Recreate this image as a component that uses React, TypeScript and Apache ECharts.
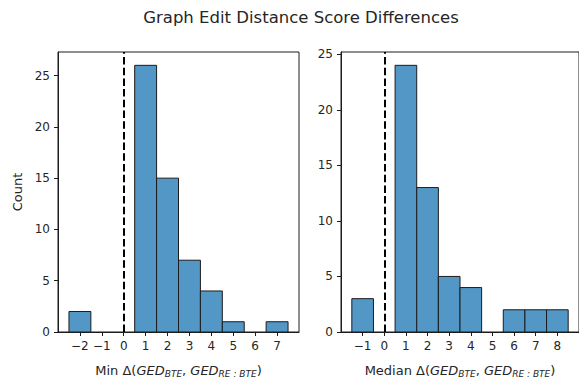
import React, { useEffect, useRef } from "react";
import * as echarts from "echarts";

const titleText = "Graph Edit Distance Score Differences";
const leftBins = [-2, -1, 0, 1, 2, 3, 4, 5, 6, 7];
const leftCounts = [2, 0, 0, 26, 15, 7, 4, 1, 0, 1];
const rightBins = [-1, 0, 1, 2, 3, 4, 5, 6, 7, 8];
const rightCounts = [3, 0, 24, 13, 5, 4, 0, 2, 2, 2];
const leftXTicks = [-2, -1, 0, 1, 2, 3, 4, 5, 6, 7];
const rightXTicks = [-1, 0, 1, 2, 3, 4, 5, 6, 7, 8];
const leftYTicks = [0, 5, 10, 15, 20, 25];
const rightYTicks = [0, 5, 10, 15, 20, 25];
const binWidth = 1;
const refLineX = 0;

const BAR = "#5297c6";
const EDGE = "#1c1c1c";
const TXT = "#262626";
const FONT = "DejaVu Sans";

const fmt = (v: number) => (v < 0 ? "\u2212" + Math.abs(v) : String(v));

function xRange(bins: number[]) {
  const lo = bins[0] - binWidth / 2;
  const hi = bins[bins.length - 1] + binWidth / 2;
  const pad = (hi - lo) * 0.05;
  return [lo - pad, hi + pad];
}

export default function App() {
  const ref = useRef<HTMLDivElement>(null);
  useEffect(() => {
    if (!ref.current) return;
    const chart = echarts.init(ref.current, null, { renderer: "svg" });
    const renderItem = (params: any, api: any) => {
      const c = api.value(0);
      const v = api.value(1);
      if (!v) return { type: "group", children: [] };
      const p0 = api.coord([c - binWidth / 2, v]);
      const p1 = api.coord([c + binWidth / 2, 0]);
      return {
        type: "rect",
        shape: { x: p0[0], y: p0[1], width: p1[0] - p0[0], height: p1[1] - p0[1] },
        style: { fill: BAR, stroke: EDGE, lineWidth: 1 },
      };
    };
    const lr = xRange(leftBins);
    const rr = xRange(rightBins);
    const rich = {
      i: { fontFamily: FONT, fontSize: 13, fontStyle: "italic", color: TXT },
      s: { fontFamily: FONT, fontSize: 9, fontStyle: "italic", color: TXT, verticalAlign: "bottom", padding: [7, 0, 0, 0] },
    };
    const xAxisCommon = (ticks: number[], range: number[]) => ({
      type: "value",
      min: range[0],
      max: range[1],
      splitLine: { show: false },
      axisLine: { show: true, onZero: false, lineStyle: { color: EDGE, width: 1 } },
      axisTick: { show: true, length: 4, lineStyle: { color: EDGE }, customValues: ticks },
      axisLabel: { customValues: ticks, formatter: fmt, color: TXT, fontFamily: FONT, fontSize: 12, margin: 8 },
      nameLocation: "middle",
      nameGap: 30,
      nameTextStyle: { color: TXT, fontFamily: FONT, fontSize: 13, rich },
    });
    const yAxisCommon = (ticks: number[], counts: number[]) => ({
      type: "value",
      min: 0,
      max: Math.max(...counts) * 1.05,
      splitLine: { show: false },
      axisLine: { show: true, onZero: false, lineStyle: { color: EDGE, width: 1 } },
      axisTick: { show: true, length: 4, lineStyle: { color: EDGE }, customValues: ticks },
      axisLabel: { customValues: ticks, formatter: fmt, color: TXT, fontFamily: FONT, fontSize: 12, margin: 8 },
    });
    const markLine = {
      silent: true,
      symbol: "none",
      label: { show: false },
      lineStyle: { type: [7.5, 3.2], color: "#000", width: 2 },
      data: [{ xAxis: refLineX }],
    };
    chart.setOption({
      animation: false,
      title: {
        text: titleText,
        left: 296,
        top: 4,
        textAlign: "center",
        textStyle: { fontFamily: FONT, fontSize: 16.5, fontWeight: "normal", color: TXT },
      },
      grid: [
        { left: 58, top: 52, width: 241, height: 284, show: true, borderColor: EDGE, borderWidth: 1, backgroundColor: "transparent" },
        { left: 341, top: 52, width: 242, height: 284, show: true, borderColor: EDGE, borderWidth: 1, backgroundColor: "transparent" },
      ],
      xAxis: [
        { ...xAxisCommon(leftXTicks, lr), gridIndex: 0, name: "Min \u0394({i|GED}{s|BTE}, {i|GED}{s|RE : BTE})" },
        { ...xAxisCommon(rightXTicks, rr), gridIndex: 1, name: "Median \u0394({i|GED}{s|BTE}, {i|GED}{s|RE : BTE})" },
      ],
      yAxis: [
        {
          ...yAxisCommon(leftYTicks, leftCounts),
          gridIndex: 0,
          name: "Count",
          nameLocation: "middle",
          nameGap: 34,
          nameTextStyle: { color: TXT, fontFamily: FONT, fontSize: 13 },
        },
        { ...yAxisCommon(rightYTicks, rightCounts), gridIndex: 1 },
      ],
      series: [
        {
          type: "custom",
          xAxisIndex: 0,
          yAxisIndex: 0,
          encode: { x: 0, y: 1 },
          data: leftBins.map((b, i) => [b, leftCounts[i]]),
          renderItem,
          markLine,
        },
        {
          type: "custom",
          xAxisIndex: 1,
          yAxisIndex: 1,
          encode: { x: 0, y: 1 },
          data: rightBins.map((b, i) => [b, rightCounts[i]]),
          renderItem,
          markLine,
        },
      ],
    });
    return () => chart.dispose();
  }, []);
  return <div ref={ref} style={{ width: 579, height: 383, position: "absolute", left: 0, top: 0 }} />;
}
